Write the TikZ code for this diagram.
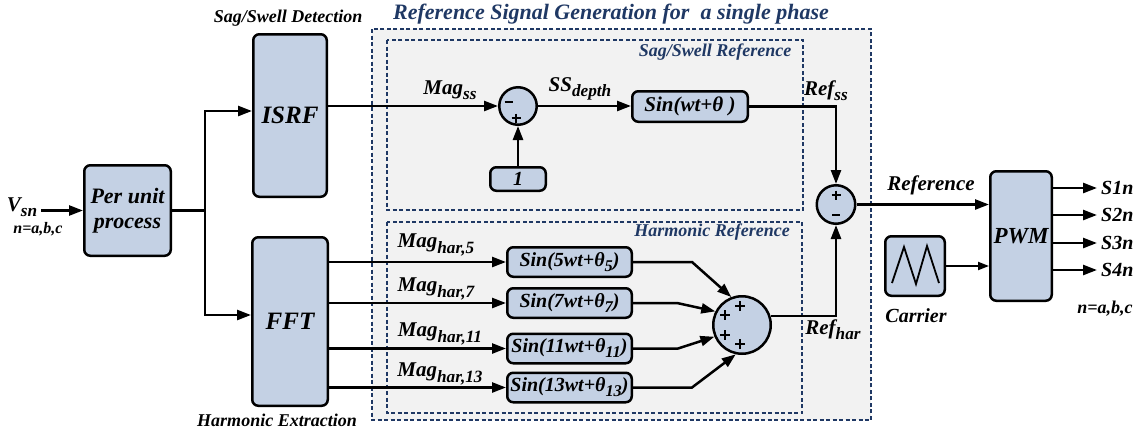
\documentclass[tikz,border=0pt]{standalone}
\usepackage{fontspec}
\setmainfont{Liberation Serif}
\usetikzlibrary{arrows.meta,calc}
\definecolor{boxblue}{RGB}{196,209,228}
\definecolor{navy}{RGB}{31,56,100}
\definecolor{bggrey}{RGB}{242,242,242}
\newcommand{\fbi}[1]{\fontsize{#1}{#1}\selectfont\bfseries\itshape}
\newcommand{\sbs}[1]{\raisebox{-0.25em}{\fontsize{0.82em}{0.82em}\selectfont #1}}
\begin{document}
\begin{tikzpicture}[x=1pt,y=-1pt,
 blk/.style={draw, line width=2.5pt, fill=boxblue, rounded corners=6pt, inner sep=0pt, align=center},
 sumc/.style={draw, circle, line width=2.5pt, fill=boxblue, inner sep=0pt},
 arr/.style={line width=2.5pt, -{Triangle[length=14pt,width=10pt]}},
 arrs/.style={line width=2pt, -{Triangle[length=11pt,width=8pt]}},
 ln/.style={line width=2.5pt},
 lbl/.style={inner sep=0pt, font=\fbi{18}},
 sig/.style={inner sep=0pt, font=\fbi{21}},
 grp/.style={draw=navy, line width=2.3pt, dash pattern=on 4pt off 2.5pt},
 grplbl/.style={inner sep=0pt, text=navy, font=\fbi{18}},
 sgn/.style={line width=2.2pt}
]
\useasboundingbox (0,0) rectangle (1143,429);

% group frames
\draw[grp, fill=bggrey] (372,29) rectangle (871,420);
\draw[grp, line width=2pt] (387,40) rectangle (803,210);
\draw[grp, line width=2pt] (387,222) rectangle (802,413);

% group labels
\node[grplbl, font=\fbi{22}] (title) at (611,14) {Reference Signal Generation for \ a single phase};
\node[grplbl] (ssref) at (715,52) {Sag/Swell Reference};
\node[grplbl] (harmref) at (712,232) {Harmonic Reference};
\node[lbl] (ssdet) at (288,18) {Sag/Swell Detection};
\node[lbl] (harmext) at (277,420) {Harmonic Extraction};

% blocks
\node[blk, minimum width=86.5pt, minimum height=90.5pt, font={\fontsize{22}{25}\selectfont\bfseries\itshape}] (pu) at (127.5,210.5) {Per unit\\process};
\node[blk, minimum width=73.5pt, minimum height=162.5pt, font=\fbi{25}] (isrf) at (290,115.5) {ISRF};
\node[blk, minimum width=75.5pt, minimum height=168.5pt, font=\fbi{25}] (fft) at (290,321.5) {FFT};
\node[blk, minimum width=55.5pt, minimum height=23.5pt, font=\fbi{20}] (one) at (518,179) {1};
\node[blk, minimum width=115.5pt, minimum height=30.5pt, font=\fbi{21}] (sinss) at (690,106.5) {Sin(wt+θ )};
\node[blk, minimum width=124.5pt, minimum height=29.5pt, font=\fbi{20}] (h5) at (569.5,262) {Sin(5wt+θ\sbs{5})};
\node[blk, minimum width=124.5pt, minimum height=29.5pt, font=\fbi{20}] (h7) at (569.5,303) {Sin(7wt+θ\sbs{7})};
\node[blk, minimum width=124.5pt, minimum height=29.5pt, font=\fbi{20}] (h11) at (569.5,348.5) {Sin(11wt+θ\sbs{11})};
\node[blk, minimum width=124.5pt, minimum height=29.5pt, font=\fbi{20}] (h13) at (569.5,387.5) {Sin(13wt+θ\sbs{13})};
\node[blk, minimum width=61.5pt, minimum height=129.5pt, font=\fbi{23}] (pwm) at (1021,236) {PWM};
\node[blk, minimum width=59.5pt, minimum height=59.5pt] (carrier) at (915,266) {};
\draw[line width=1.8pt, line join=miter] ($(carrier)+(-23,17)$) -- ($(carrier)+(-11,-19)$) -- ($(carrier)+(1,18)$) -- ($(carrier)+(12,-20)$) -- ($(carrier)+(24,17)$);

% summing junctions
\node[sumc, minimum size=37.5pt] (sum1) at (518,106) {};
\node[sumc, minimum size=38.5pt] (sum2) at (836,204.5) {};
\node[sumc, minimum size=57.5pt] (sumh) at (742,325) {};
% signs
\draw[sgn] (504.5,102) -- (512.5,102);
\draw[sgn] (511.5,118) -- (520.5,118) (516,113.5) -- (516,122.5);
\draw[sgn] (831.5,195) -- (840.5,195) (836,190.5) -- (836,199.5);
\draw[sgn] (832,215) -- (840,215);
\foreach \p in {(725,315),(740,306),(725,335),(740,344)}
  \draw[sgn] \p ++(-5,0) -- ++(10,0) \p ++(0,-5) -- ++(0,10);

% text labels
\node[inner sep=0pt, font=\fbi{21}] (vsn) at (22,207) {V\sbs{sn}};
\node[inner sep=0pt, font=\fbi{16}] (nabc1) at (38,229) {n=a,b,c};
\node[sig] (magss) at (450,90) {Mag\sbs{ss}};
\node[sig] (ssdepth) at (580,89) {SS\sbs{depth}};
\node[sig] (refss) at (826,91) {Ref\sbs{ss}};
\node[sig] (refhar) at (833,330) {Ref\sbs{har}};
\node[sig] (reflbl) at (931,185) {Reference};
\node[lbl, font=\fbi{20}] (carlbl) at (916,316) {Carrier};
\node[sig] (mag5) at (436,245) {Mag\sbs{har,5}};
\node[sig] (mag7) at (436,289) {Mag\sbs{har,7}};
\node[sig] (mag11) at (440,334) {Mag\sbs{har,11}};
\node[sig] (mag13) at (440,374) {Mag\sbs{har,13}};
\node[lbl, font=\fbi{20}, anchor=west] (s1) at (1101,188) {S1n};
\node[lbl, font=\fbi{20}, anchor=west] (s2) at (1101,215) {S2n};
\node[lbl, font=\fbi{20}, anchor=west] (s3) at (1101,243) {S3n};
\node[lbl, font=\fbi{20}, anchor=west] (s4) at (1101,270) {S4n};
\node[lbl] (nabc2) at (1105,309) {n=a,b,c};

% connectors
\coordinate (split) at (205,210.5);
\draw[arr] (vsn.east |- pu.west) ++(4,0) -- (pu.west);
\draw[ln] (pu.east) -- (split);
\draw[arr] (split) |- ($(isrf.west)+(0,-4.5)$);
\draw[arr] (split) |- ($(fft.west)+(0,-6.5)$);
\draw[arr] (isrf.east |- sum1.west) -- (sum1.west);
\draw[arr] (one.north) -- (sum1.south);
\draw[arr] (sum1.east) -- (sum1.east -| sinss.west);
\draw[arr] (sinss.east) -| (sum2.north);
\draw[arr] (sumh.17) -| (sum2.south);
\draw[arr] (sum2.east) -- (sum2.east -| pwm.west);
\draw[arrs] (carrier.east) -- (carrier.east -| pwm.west);
\foreach \s in {s1,s2,s3,s4}
  \draw[arr] (\s.west -| pwm.east) -- ($(\s.west)+(-4,0)$);
\foreach \h in {h5,h7,h11,h13}
  \draw[arr] (\h.west -| fft.east) -- (\h.west);
\draw[arr] (h5.east) -- ++(59,0) -- (sumh.111);
\draw[arr] (h7.east) -- ++(44,0) -- (sumh.153);
\draw[arr] (h11.east) -- ++(45,0) -- (sumh.203);
\draw[arr] (h13.east) -- ++(59,0) -- (sumh.258);
\end{tikzpicture}
\end{document}
